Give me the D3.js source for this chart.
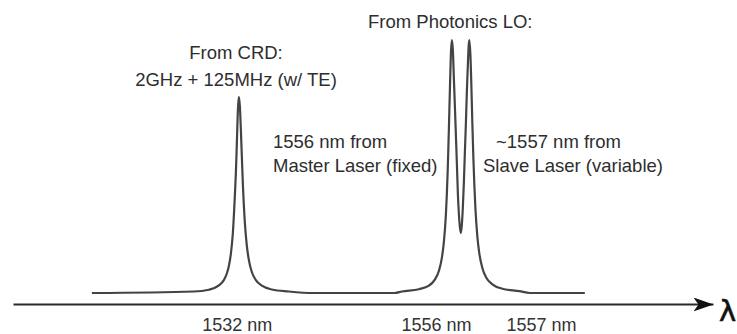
<!DOCTYPE html>
<html>
<head>
<meta charset="utf-8">
<script src="https://cdn.jsdelivr.net/npm/d3@7/dist/d3.min.js"></script>
<style>
  html, body { margin: 0; padding: 0; background: #fff; }
  svg { display: block; }
  text { font-family: "Liberation Sans", Arial, Helvetica, sans-serif; }
</style>
</head>
<body>
<svg id="chart" width="737" height="334"></svg>
<script>
// ---- Data (relative position units, relative intensity) ----
// Spectrum trace: position along the wavelength axis (arbitrary units, baseline spans 0..100)
const tracePos = [
  0, 20.69, 23.73, 25.76, 26.77, 27.38, 27.79, 28.19, 28.60, 29.01, 29.21, 29.41, 29.61, 29.80,
  30.02, 30.22, 30.43, 30.63, 31.03, 31.44, 31.85, 32.45, 33.27, 34.48, 36.51, 39.96, 45.0,
  61.46, 62.88, 66.33, 68.36, 69.57, 70.39, 70.99, 71.40, 71.81, 72.01, 72.21, 72.41, 72.62, 72.82, 73.02,
  73.23, 73.43, 73.63, 73.83, 74.04, 74.24, 74.44, 74.65, 74.85,
  75.05, 75.25, 75.46, 75.66, 75.86, 76.06, 76.27, 76.43, 76.57,
  76.77, 76.98, 77.18, 77.38, 77.59, 77.79, 78.19, 78.60, 79.21, 80.02, 81.24, 83.27, 86.71, 88.84, 100
];
// Relative intensity at each position (1 = tallest peaks)
const traceInt = [
  0, 0.006, 0.013, 0.030, 0.051, 0.077, 0.107, 0.154, 0.237, 0.387, 0.474, 0.593, 0.719, 0.775,
  0.739, 0.647, 0.536, 0.432, 0.279, 0.186, 0.130, 0.083, 0.051, 0.029, 0.014, 0.006, 0,
  0, 0.006, 0.015, 0.029, 0.053, 0.087, 0.138, 0.200, 0.308, 0.391, 0.500, 0.640, 0.798, 0.941, 1.0,
  0.960, 0.850, 0.743, 0.632, 0.514, 0.395, 0.316, 0.261, 0.237,
  0.269, 0.336, 0.435, 0.553, 0.664, 0.791, 0.901, 0.976, 1.0,
  0.949, 0.822, 0.672, 0.538, 0.427, 0.340, 0.225, 0.156, 0.099, 0.060, 0.034, 0.017, 0.0075, 0, 0
];
// Axis tick labels and their positions (same units)
const tickLabels = ["1532 nm", "1556 nm", "1557 nm"];
const tickPos = [29.4, 69.8, 91.1];
const axisDomain = [-16, 126];

// ---- Scales ----
const svg = d3.select("#chart");
const x = d3.scaleLinear().domain(axisDomain).range([13, 713]);
const y = d3.scaleLinear().domain([0, 1]).range([293, 40]);

// ---- Arrow marker ----
svg.append("defs").append("marker")
  .attr("id", "arrow")
  .attr("viewBox", "0 0 20 14")
  .attr("refX", 20).attr("refY", 7)
  .attr("markerWidth", 20).attr("markerHeight", 14)
  .attr("markerUnits", "userSpaceOnUse")
  .attr("orient", "auto")
  .append("path")
  .attr("d", "M0,0 L20,7 L0,14 L5,7 Z")
  .attr("fill", "#111");

// ---- Axis ----
const axis = d3.axisBottom(x)
  .tickValues(tickPos)
  .tickFormat((d, i) => tickLabels[i])
  .tickSizeInner(0).tickSizeOuter(0)
  .tickPadding(14);

const gAxis = svg.append("g")
  .attr("transform", `translate(0,${y(0) + 11})`)
  .call(axis);
gAxis.select(".domain")
  .attr("stroke", "#2a2a2a")
  .attr("stroke-width", 2)
  .attr("marker-end", "url(#arrow)");
gAxis.selectAll(".tick text")
  .attr("fill", "#333")
  .style("font-size", "18px")
  .style("font-family", "'Liberation Sans', Arial, sans-serif");

// lambda symbol
svg.append("text")
  .attr("x", 719).attr("y", 321)
  .attr("font-size", 29)
  .attr("fill", "#111")
  .attr("stroke", "#111")
  .attr("stroke-width", 0.6)
  .style("font-family", "'DejaVu Sans', sans-serif")
  .text("λ");

// ---- Spectrum trace ----
const data = tracePos.map((p, i) => ({ p, v: traceInt[i] }));
const line = d3.line()
  .x(d => x(d.p))
  .y(d => y(d.v))
  .curve(d3.curveMonotoneX);

svg.append("path")
  .datum(data)
  .attr("d", line)
  .attr("fill", "none")
  .attr("stroke", "#444")
  .attr("stroke-width", 2.2)
  .attr("stroke-linejoin", "round");

// ---- Annotations ----
const ann = svg.append("g")
  .attr("fill", "#2e2e2e")
  .style("font-size", "18.5px");

ann.append("text").attr("x", 236).attr("y", 59).attr("text-anchor", "middle").text("From CRD:");
ann.append("text").attr("x", 236).attr("y", 86).attr("text-anchor", "middle").text("2GHz + 125MHz (w/ TE)");
ann.append("text").attr("x", 368).attr("y", 28).text("From Photonics LO:");
ann.append("text").attr("x", 273).attr("y", 148).text("1556 nm from");
ann.append("text").attr("x", 273).attr("y", 172).text("Master Laser (fixed)");
ann.append("text").attr("x", 496).attr("y", 148).text("~1557 nm from");
ann.append("text").attr("x", 483).attr("y", 172).text("Slave Laser (variable)");
</script>
</body>
</html>
